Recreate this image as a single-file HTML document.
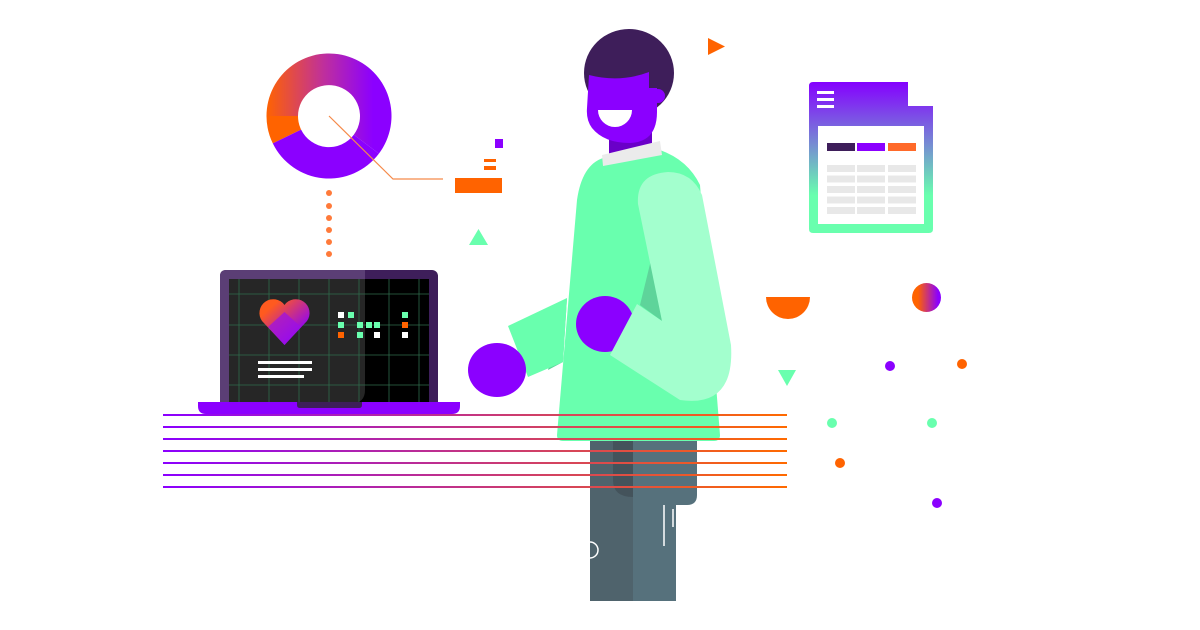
<!DOCTYPE html>
<html><head><meta charset="utf-8"><style>html,body{margin:0;padding:0;background:#fff}svg{display:block}</style></head><body>
<svg width="1200" height="630" viewBox="0 0 1200 630" xmlns="http://www.w3.org/2000/svg">
<defs>
<linearGradient id="dg" x1="266" y1="0" x2="392" y2="0" gradientUnits="userSpaceOnUse"><stop offset="0" stop-color="#FF6300"/><stop offset="0.45" stop-color="#C0309A"/><stop offset="0.85" stop-color="#8B00FF"/></linearGradient>
<linearGradient id="cg" x1="0" y1="0" x2="1" y2="0"><stop offset="0.2" stop-color="#FF6300"/><stop offset="0.9" stop-color="#8B00FF"/></linearGradient>
<linearGradient id="lg" x1="163" y1="0" x2="787" y2="0" gradientUnits="userSpaceOnUse"><stop offset="0" stop-color="#8B00FF"/><stop offset="1" stop-color="#FF6A00"/></linearGradient>
<linearGradient id="sg" x1="0" y1="0" x2="0" y2="1"><stop offset="0" stop-color="#8500FF"/><stop offset="0.75" stop-color="#69FFAE"/></linearGradient>
<linearGradient id="hg" x1="0" y1="0" x2="1" y2="1"><stop offset="0.2" stop-color="#FF5A1F"/><stop offset="0.8" stop-color="#8B00FF"/></linearGradient>
</defs>

<!-- donut -->
<path d="M266.5,116 A62.5,62.5 0 1 1 378.9,153.6 L353.8,134.7 A31,31 0 1 0 298,116 Z" fill="url(#dg)"/>
<path d="M266.5,116 A62.5,62.5 0 0 0 272.8,143.4 L301.1,129.6 A31,31 0 0 1 298,116 Z" fill="#FF6300"/>
<path d="M272.8,143.4 A62.5,62.5 0 0 0 378.9,153.6 L353.8,134.7 A31,31 0 0 1 301.1,129.6 Z" fill="#8B00FF"/>
<polyline points="329,116 393,179 443,179" fill="none" stroke="#F58A4A" stroke-width="1.2"/>
<g fill="#FF7A3A"><circle cx="329" cy="193" r="3"/><circle cx="329" cy="206" r="3"/><circle cx="329" cy="218" r="3"/><circle cx="329" cy="230" r="3"/><circle cx="329" cy="242" r="3"/><circle cx="329" cy="254" r="3"/></g>
<rect x="495" y="139" width="8" height="9" fill="#8B00FF"/>
<rect x="484" y="159" width="12" height="3" fill="#FF6300"/><rect x="484" y="166" width="12" height="4" fill="#FF6300"/>
<rect x="455" y="178" width="47" height="15" fill="#FF6300"/>
<polygon points="469,245 478.5,229 488,245" fill="#69FFAE"/>
<polygon points="708,38 725,46.5 708,55" fill="#FF6300"/>

<!-- laptop -->
<rect x="220" y="270" width="218" height="140" rx="6" fill="#3E1E5A"/>
<path d="M226,270 H365 V410 H220 V276 Q220,270 226,270 Z" fill="#5B3E75"/>
<rect x="229" y="279" width="200" height="124" fill="#000"/>
<path d="M229,279 H365 V390 Q365,403 352,403 H229 Z" fill="#262626"/>
<g stroke="#2F6B4C" stroke-width="0.8">
<line x1="239" y1="279" x2="239" y2="403"/><line x1="269" y1="279" x2="269" y2="403"/><line x1="299" y1="279" x2="299" y2="403"/><line x1="329" y1="279" x2="329" y2="403"/><line x1="359" y1="279" x2="359" y2="403"/><line x1="389" y1="279" x2="389" y2="403"/><line x1="419" y1="279" x2="419" y2="403"/>
<line x1="229" y1="294" x2="429" y2="294"/><line x1="229" y1="325" x2="429" y2="325"/><line x1="229" y1="355" x2="429" y2="355"/><line x1="229" y1="385" x2="429" y2="385"/>
</g>
<path d="M284.5,345 L262,321 A12.5,12.5 0 0 1 284.5,305 A12.5,12.5 0 0 1 307,321 Z" fill="url(#hg)"/>
<path d="M284.5,345 L268,327 L284.5,312 L301,327 Z" fill="#9A10E8" opacity="0.7"/>
<rect x="258" y="361" width="54" height="3" fill="#fff"/><rect x="258" y="368" width="54" height="3" fill="#fff"/><rect x="258" y="375" width="46" height="3" fill="#fff"/>
<g>
<rect x="338" y="312" width="6" height="6" fill="#fff"/><rect x="348" y="312" width="6" height="6" fill="#69FFAE"/>
<rect x="338" y="322" width="6" height="6" fill="#69FFAE"/><rect x="357" y="322" width="6" height="6" fill="#69FFAE"/><rect x="366" y="322" width="6" height="6" fill="#69FFAE"/><rect x="374" y="322" width="6" height="6" fill="#69FFAE"/>
<rect x="338" y="332" width="6" height="6" fill="#FF6300"/><rect x="357" y="332" width="6" height="6" fill="#69FFAE"/><rect x="374" y="332" width="6" height="6" fill="#fff"/>
<rect x="402" y="312" width="6" height="6" fill="#69FFAE"/><rect x="402" y="322" width="6" height="6" fill="#FF6300"/><rect x="402" y="332" width="6" height="6" fill="#fff"/>
</g>
<path d="M198,402 H460 V406 Q460,414 452,414 H206 Q198,414 198,406 Z" fill="#8B00FF"/>
<path d="M297,402 H362 V405 Q362,408 359,408 H300 Q297,408 297,405 Z" fill="#3E1E5A"/>

<!-- spreadsheet -->
<path d="M813,82 H908 V106 H933 V229 Q933,233 929,233 H813 Q809,233 809,229 V86 Q809,82 813,82 Z" fill="url(#sg)"/>
<rect x="818" y="126" width="106" height="98" fill="#fff"/>
<rect x="817" y="91" width="17" height="3" fill="#fff"/><rect x="817" y="98" width="17" height="3" fill="#fff"/><rect x="817" y="105" width="17" height="3" fill="#fff"/>
<rect x="827" y="143" width="28" height="8" fill="#3E1E5A"/><rect x="857" y="143" width="28" height="8" fill="#8B00FF"/><rect x="888" y="143" width="28" height="8" fill="#FF6A2A"/>
<g fill="#E8E8E8">
<rect x="827" y="165" width="28" height="7"/><rect x="857" y="165" width="28" height="7"/><rect x="888" y="165" width="28" height="7"/>
<rect x="827" y="175.5" width="28" height="7"/><rect x="857" y="175.5" width="28" height="7"/><rect x="888" y="175.5" width="28" height="7"/>
<rect x="827" y="186" width="28" height="7"/><rect x="857" y="186" width="28" height="7"/><rect x="888" y="186" width="28" height="7"/>
<rect x="827" y="196.5" width="28" height="7"/><rect x="857" y="196.5" width="28" height="7"/><rect x="888" y="196.5" width="28" height="7"/>
<rect x="827" y="207" width="28" height="7"/><rect x="857" y="207" width="28" height="7"/><rect x="888" y="207" width="28" height="7"/>
</g>

<!-- right deco -->
<path d="M766,297 H810 A22,22 0 0 1 766,297 Z" fill="#FF6300"/>
<circle cx="926.5" cy="297.5" r="14.5" fill="url(#cg)"/>
<circle cx="890" cy="366" r="5" fill="#8B00FF"/><circle cx="962" cy="364" r="5" fill="#FF6300"/>
<polygon points="778,370 796,370 787,386" fill="#69FFAE"/>
<circle cx="832" cy="423" r="5" fill="#69FFAE"/><circle cx="932" cy="423" r="5" fill="#69FFAE"/>
<circle cx="840" cy="463" r="5" fill="#FF6300"/><circle cx="937" cy="503" r="5" fill="#8B00FF"/>

<!-- person: pants -->
<rect x="590" y="440" width="43" height="161" fill="#4F636C"/>
<path d="M633,440 H697 V495 Q697,505 687,505 H676 V601 H633 Z" fill="#56717C"/>
<path d="M613,440 H633 V497 Q613,497 613,480 Z" fill="#44535B"/>
<g stroke="#fff" stroke-width="1.5" fill="none"><line x1="664" y1="505" x2="664" y2="546"/><line x1="673" y1="509" x2="673" y2="527"/><line x1="680" y1="505" x2="680" y2="515"/><path d="M590,542 A8,8 0 0 1 590,558"/></g>

<!-- head -->
<rect x="609" y="128" width="43" height="26" fill="#6A00C8"/>
<ellipse cx="629" cy="73" rx="45" ry="44" fill="#3E1E5A"/>
<path d="M589,75 Q620,83 649,72 L649,88 L657,88 L657,112 Q657,142 630,143 Q604,143 592,128 Q586,120 587,108 Z" fill="#8B00FF"/>
<circle cx="658" cy="96" r="7" fill="#8B00FF"/>
<path d="M598,110 H632 A17,17 0 0 1 598,110 Z" fill="#fff"/>

<!-- torso -->
<path d="M577,200 Q582,165 603,158 L660,150 Q688,160 700,185 L720,435 Q720,441 714,441 H563 Q557,441 557,435 Z" fill="#69FFAE"/>
<polygon points="602,155 660,141 662,155 603,166" fill="#EBEBEB"/>
<!-- left arm -->
<polygon points="567,298 563,362 548,370" fill="#5ED49A"/>
<polygon points="508,326 567,298 563,362 528,377" fill="#69FFAE"/>
<ellipse cx="497" cy="370" rx="29" ry="27" fill="#8B00FF"/>
<!-- right arm -->
<polygon points="651,260 662,321 640,305" fill="#5ED49A"/>
<ellipse cx="605" cy="324" rx="29" ry="28" fill="#8B00FF"/>
<path d="M638,204 L662,321 L637,304 L610,355 L680,400 Q735,408 731,345 L702,195 Q692,172 668,172 Q636,174 638,204 Z" fill="#A3FFCE"/>

<!-- stripes -->
<g stroke="url(#lg)" stroke-width="2">
<line x1="163" y1="415" x2="787" y2="415"/><line x1="163" y1="427" x2="787" y2="427"/><line x1="163" y1="439" x2="787" y2="439"/><line x1="163" y1="451" x2="787" y2="451"/><line x1="163" y1="463" x2="787" y2="463"/><line x1="163" y1="475" x2="787" y2="475"/><line x1="163" y1="487" x2="787" y2="487"/>
</g>
</svg>
</body></html>
